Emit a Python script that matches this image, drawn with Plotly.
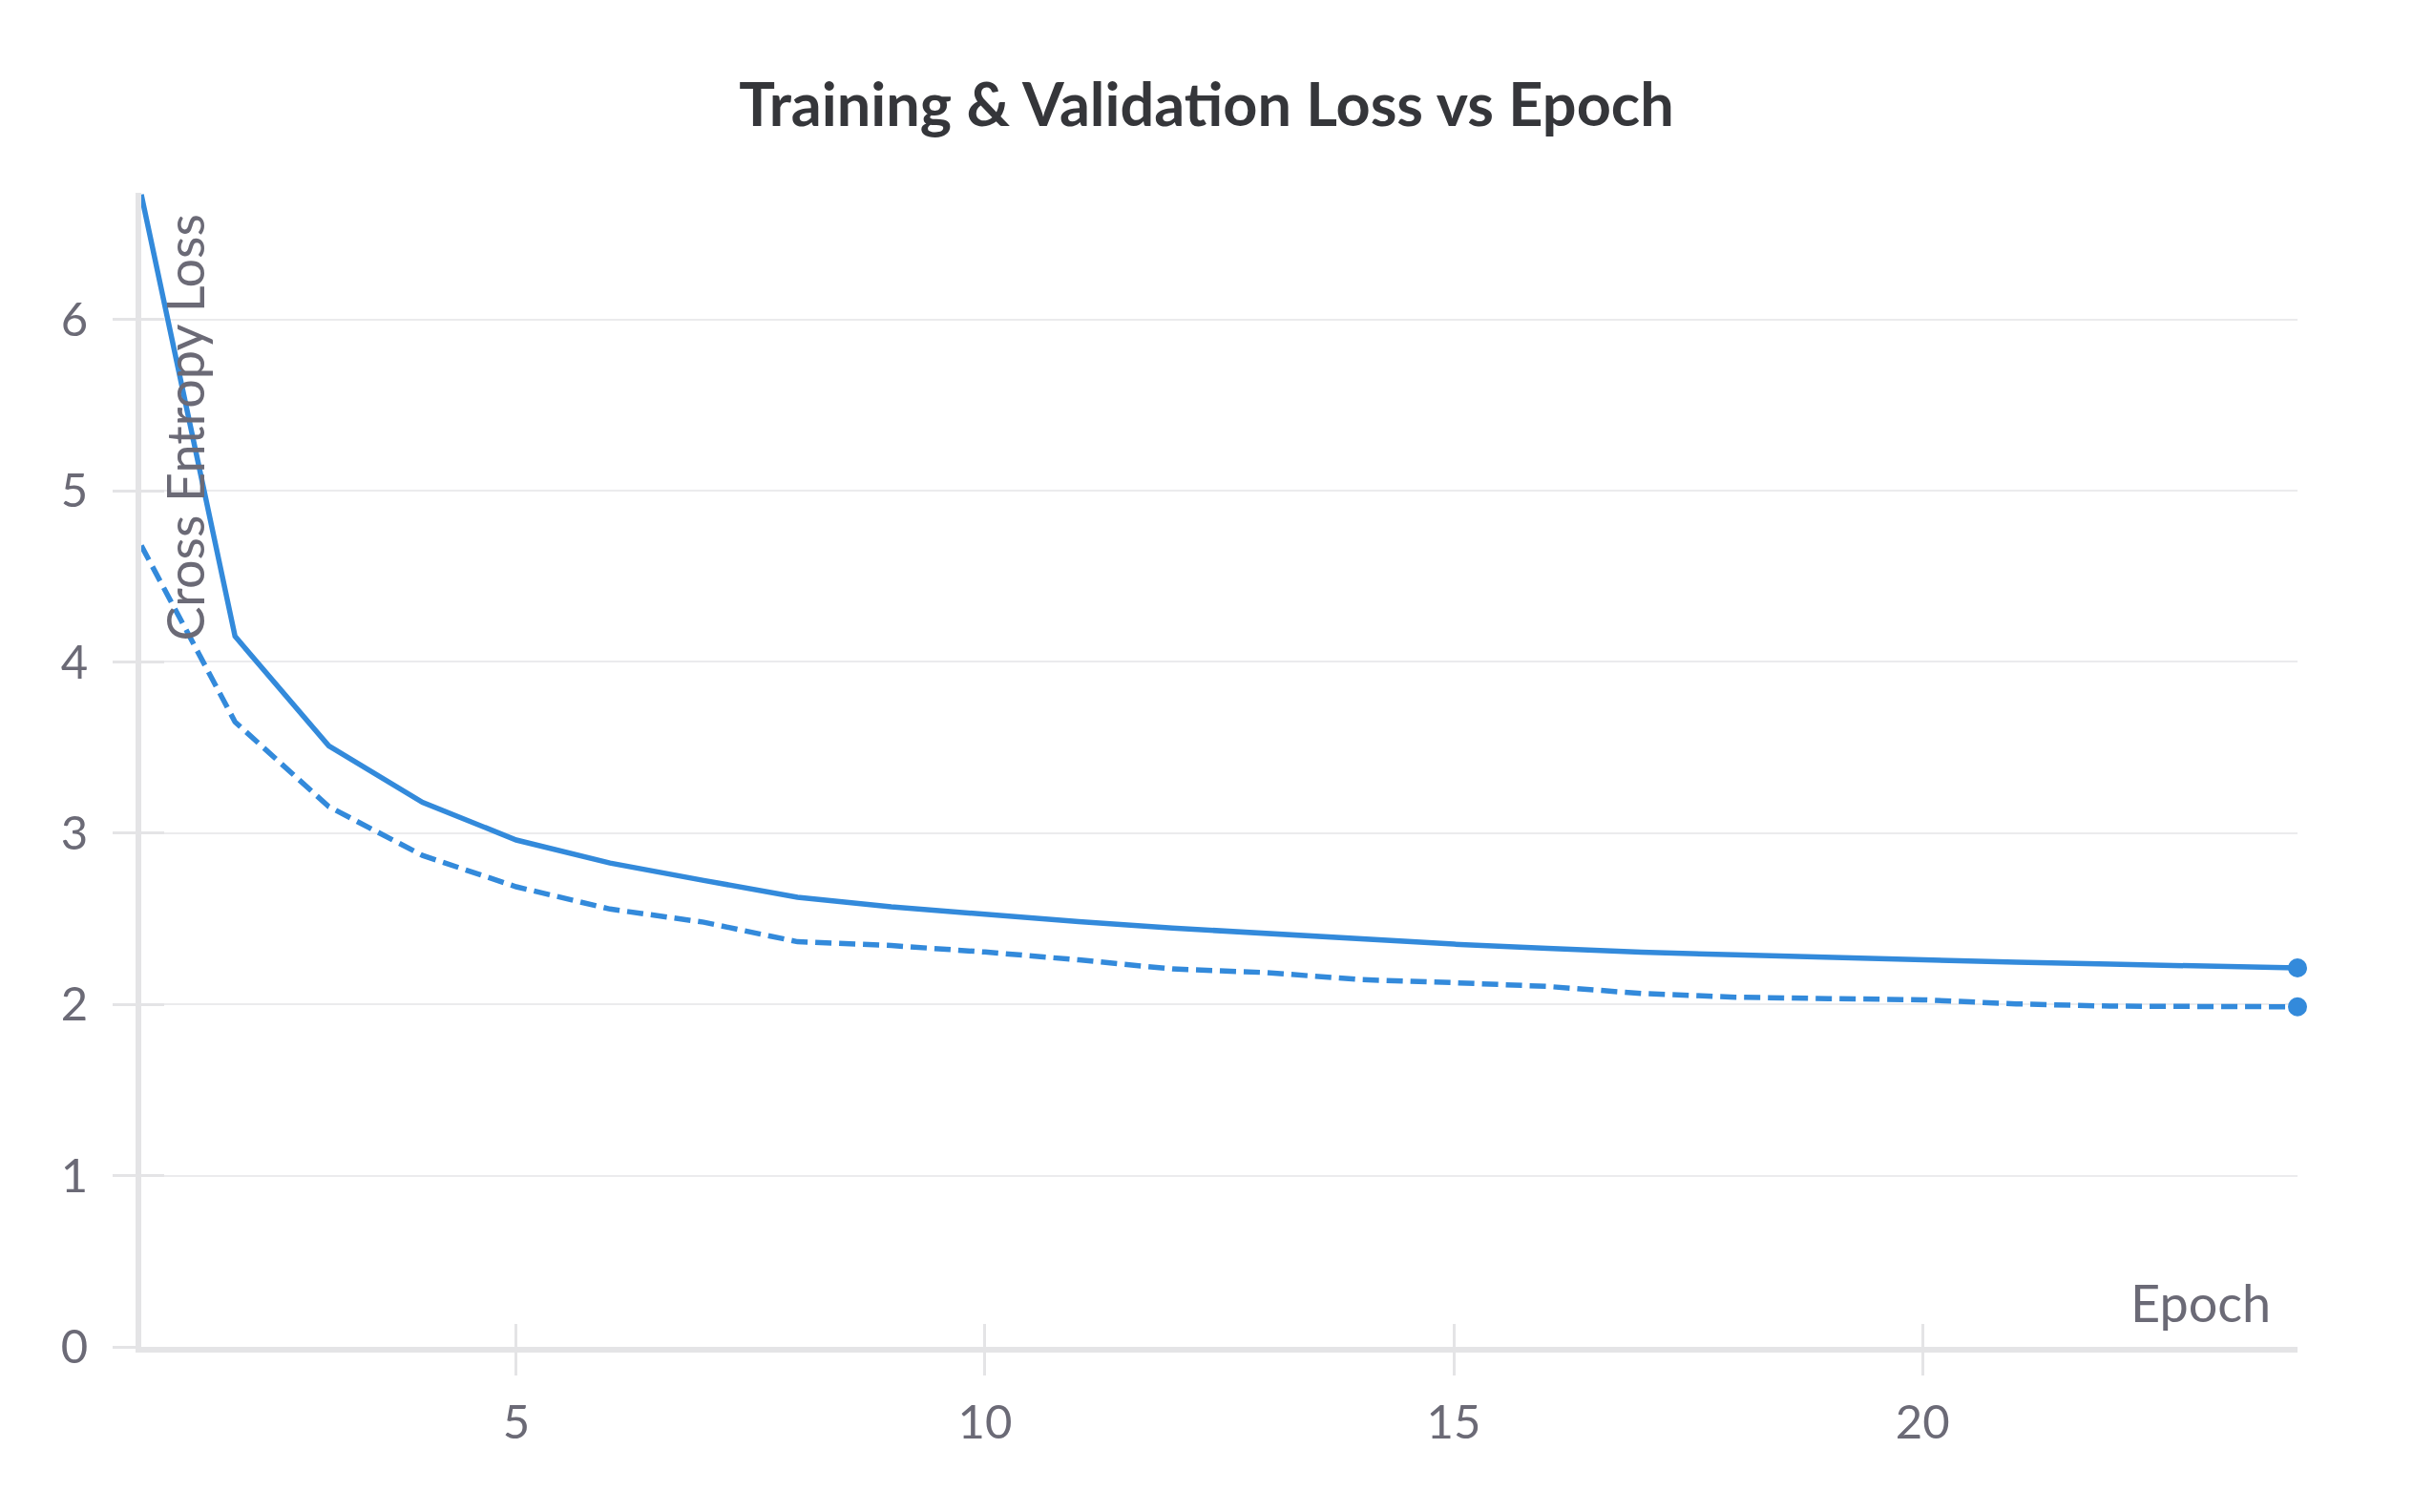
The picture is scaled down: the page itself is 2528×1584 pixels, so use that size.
import plotly.graph_objects as go

epochs = list(range(1, 25))
train_loss = [6.73, 4.15, 3.51, 3.18, 2.96, 2.826, 2.724, 2.626, 2.570, 2.524, 2.483, 2.446,
              2.413, 2.380, 2.352, 2.328, 2.305, 2.290, 2.274, 2.259, 2.246, 2.235, 2.224, 2.213]
val_loss = [4.68, 3.65, 3.155, 2.87, 2.687, 2.557, 2.48, 2.366, 2.344, 2.306, 2.26, 2.207,
            2.186, 2.145, 2.127, 2.105, 2.064, 2.042, 2.034, 2.027, 2.003, 1.990, 1.988, 1.986]
x_ticks = [5, 10, 15, 20]
y_ticks = [0, 1, 2, 3, 4, 5, 6]

title_text = "Training & Validation Loss vs Epoch"
x_title = "Epoch"
y_title = "Cross Entropy Loss"

BLUE = "#338ADB"
GRAY_TXT = "#6B6A76"
AXIS = "#E4E4E6"
GRID = "#EBEBED"
FONT = "Lato"

fig = go.Figure()
fig.add_trace(go.Scatter(x=epochs, y=train_loss, mode="lines", name="Training",
                         line=dict(color=BLUE, width=5.5), showlegend=False))
fig.add_trace(go.Scatter(x=epochs, y=val_loss, mode="lines", name="Validation",
                         line=dict(color=BLUE, width=5.5, dash="17px,8px"), showlegend=False))
fig.add_trace(go.Scatter(x=[epochs[-1], epochs[-1]], y=[train_loss[-1], val_loss[-1]],
                         mode="markers", marker=dict(color=BLUE, size=20), cliponaxis=False,
                         showlegend=False))
# invisible trace on overlay axis to draw inside ticks
fig.add_trace(go.Scatter(x=[epochs[0]], y=[0], xaxis="x2", yaxis="y2", mode="markers",
                         marker=dict(opacity=0), showlegend=False, hoverinfo="skip"))

common = dict(showline=False, zeroline=False)
fig.update_layout(
    width=2528, height=1584,
    margin=dict(l=148, r=121, t=202, b=173),
    paper_bgcolor="white", plot_bgcolor="white",
    font=dict(family=FONT, color=GRAY_TXT, size=48),
    title=dict(text="<b>" + title_text + "</b>", x=0.5, xanchor="center", y=1 - 110 / 1584,
               yanchor="middle", font=dict(family=FONT, size=63, color="#35363A")),
    xaxis=dict(range=[1, 24], tickvals=x_ticks, ticks="outside", ticklen=24, tickwidth=3,
               tickcolor=AXIS, showgrid=False, zeroline=False, showline=True, linecolor=AXIS,
               linewidth=6, ticklabelstandoff=7, tickfont=dict(size=49, color=GRAY_TXT)),
    yaxis=dict(range=[0, 6.74], tickvals=y_ticks, ticks="outside", ticklen=24, tickwidth=3,
               tickcolor=AXIS, showgrid=True, gridcolor=GRID, gridwidth=2, zeroline=False,
               showline=True, linecolor=AXIS, linewidth=6, ticklabelstandoff=16,
               tickfont=dict(size=49, color=GRAY_TXT)),
    xaxis2=dict(range=[1, 24], tickvals=x_ticks, ticks="inside", ticklen=24, tickwidth=3,
                tickcolor=AXIS, showticklabels=False, overlaying="x", anchor="y", side="bottom",
                showgrid=False, **common),
    yaxis2=dict(range=[0, 6.74], tickvals=y_ticks, ticks="inside", ticklen=24, tickwidth=3,
                tickcolor=AXIS, showticklabels=False, overlaying="y", anchor="x", side="left",
                showgrid=False, **common),
    annotations=[
        dict(text=x_title, xref="paper", yref="paper", x=0.9885, y=0.01, xanchor="right",
             yanchor="bottom", showarrow=False, font=dict(family=FONT, size=54, color=GRAY_TXT)),
        dict(text=y_title, xref="paper", yref="paper", x=0.0, y=0.983, xanchor="left",
             yanchor="top", xshift=11, textangle=-90, showarrow=False,
             font=dict(family=FONT, size=54, color=GRAY_TXT)),
    ],
)

fig.write_html("out.html")
